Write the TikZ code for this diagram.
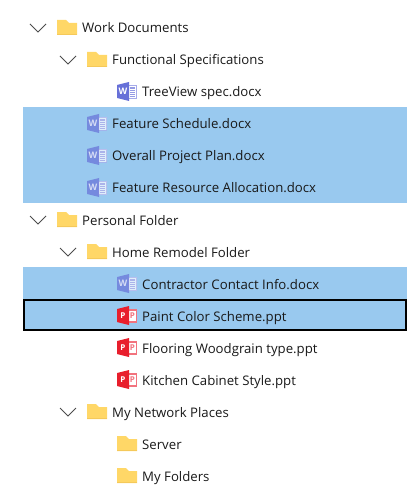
\documentclass[tikz,border=0pt]{standalone}
\usepackage{fontspec}
\setmainfont{Open Sans}
\usepackage{xcolor}
\usetikzlibrary{positioning}
\definecolor{selblue}{HTML}{99C9EF}
\definecolor{foldery}{HTML}{FFD767}
\definecolor{foldbot}{HTML}{F5C95A}
\definecolor{wordblue}{HTML}{6770D8}
\definecolor{wordpale}{HTML}{A6ABEA}
\definecolor{pptred}{HTML}{E81E2C}
\definecolor{pptpale}{HTML}{F2737E}
\newcommand{\chevicon}[1]{
  \draw[color=black!70,line width=0.9pt] ([shift={(-52,4)}]#1.west) -- ([shift={(-44,-4)}]#1.west) -- ([shift={(-36,4)}]#1.west);
}
\newcommand{\foldicon}[1]{
  \begin{scope}[shift={(#1.west)}]
    \fill[foldery] (-25,8) -- (-16,8) -- (-13,5) -- (-5,5) -- (-5,-7) -- (-25,-7) -- cycle;
    \fill[foldbot] (-25,-6) rectangle (-5,-7);
  \end{scope}
}
\newcommand{\wordicon}[2][1]{
  \begin{scope}[shift={(#2.west)},opacity=#1]
    \fill[white] (-14,7) rectangle (-5,-6.5);
    \draw[wordpale,line width=0.8pt] (-14,7) rectangle (-5.5,-6.5);
    \foreach \yy in {-4.5,-2.5,-0.5,1.5,3.5,5}
      \draw[wordblue!70,line width=0.8pt] (-12.5,\yy) -- (-7,\yy);
    \fill[wordblue] (-25,7) -- (-13,10) -- (-13,-9) -- (-25,-6) -- cycle;
    \node[text=white,font=\bfseries\fontsize{9}{9}\selectfont,inner sep=0pt] (#2W) at (-19,0.5) {W};
  \end{scope}
}
\newcommand{\ppticon}[1]{
  \begin{scope}[shift={(#1.west)}]
    \fill[white] (-14,6.5) rectangle (-5,-6.5);
    \draw[pptpale,line width=1.4pt] (-14,6) rectangle (-5.7,-6);
    \node[text=pptpale,font=\bfseries\fontsize{8}{8}\selectfont,inner sep=0pt] (#1Q) at (-9.5,0.5) {P};
    \fill[pptred] (-25,7) -- (-13,10) -- (-13,-9) -- (-25,-6) -- cycle;
    \node[text=white,font=\bfseries\fontsize{8}{8}\selectfont,inner sep=0pt] (#1P) at (-19,0.5) {P};
  \end{scope}
}
\begin{document}
\begin{tikzpicture}[x=1pt,y=1pt,node distance=32pt,on grid]
    \tikzstyle{row}=[anchor=west,inner sep=0pt,text=black!90,font=\fontsize{13.2}{16}\selectfont,text height=11.5pt,text depth=1.5pt]
    \tikzstyle{band}=[fill=selblue,draw=none]
    \tikzstyle{focusbox}=[draw=black,line width=2pt]
    \useasboundingbox (0,0) rectangle (415,-494);

    \fill[band] (23,-107) rectangle (407,-203);
    \fill[band] (23,-267) rectangle (407,-331);
    \node[focusbox, minimum width=382pt, minimum height=30pt, inner sep=0pt] (Focus) at (215,-315) {};

    \node[row] (A0) at (82,-28) {Work Documents};
    \node[row] (A1) at (112,-60) {Functional Specifications};
    \node[row] (A2) at (142,-92) {TreeView spec.docx};
    \node[row] (A3) at (112,-124) {Feature Schedule.docx};
    \node[row, below=of A3.west, anchor=west] (A4) {Overall Project Plan.docx};
    \node[row, below=of A4.west, anchor=west] (A5) {Feature Resource Allocation.docx};
    \node[row] (B0) at (82,-220) {Personal Folder};
    \node[row] (B1) at (112,-252) {Home Remodel Folder};
    \node[row] (B2) at (142,-284) {Contractor Contact Info.docx};
    \node[row, below=of B2.west, anchor=west] (B3) {Paint Color Scheme.ppt};
    \node[row, below=of B3.west, anchor=west] (B4) {Flooring Woodgrain type.ppt};
    \node[row, below=of B4.west, anchor=west] (B5) {Kitchen Cabinet Style.ppt};
    \node[row] (C0) at (112,-412) {My Network Places};
    \node[row] (C1) at (142,-444) {Server};
    \node[row, below=of C1.west, anchor=west] (C2) {My Folders};

    \foreach \n in {A0,A1,B0,B1,C0} {\chevicon{\n}}
    \foreach \n in {A0,A1,B0,B1,C0,C1,C2} {\foldicon{\n}}
    \wordicon{A2}
    \foreach \n in {A3,A4,A5,B2} {\wordicon[0.7]{\n}}
    \foreach \n in {B3,B4,B5} {\ppticon{\n}}
\end{tikzpicture}
\end{document}
